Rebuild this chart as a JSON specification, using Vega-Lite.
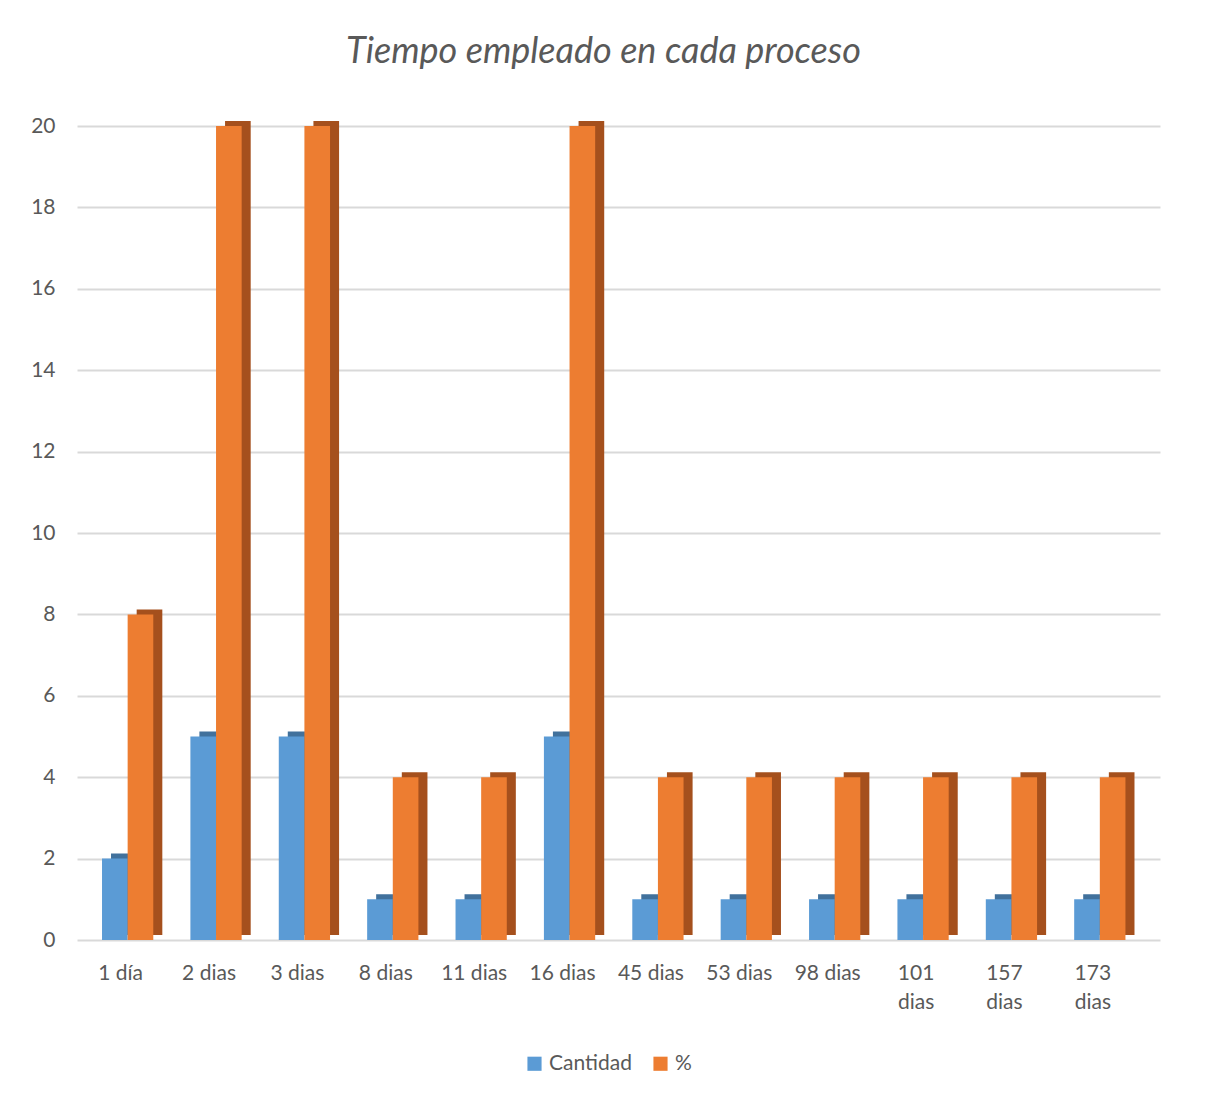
{
  "$schema": "https://vega.github.io/schema/vega-lite/v6.json",
  "autosize": {"type": "none"},
  "width": 1083,
  "height": 814,
  "padding": {"left": 77, "top": 126, "right": 45, "bottom": 158},
  "background": "white",
  "config": {
    "font": "Lato",
    "view": {"stroke": null},
    "axis": {"labelFont": "Lato", "labelColor": "#595959", "labelFontSize": 21, "titleFont": "Lato"},
    "legend": {"labelFont": "Lato", "labelColor": "#595959", "labelFontSize": 21}
  },
  "title": {
    "text": "Tiempo empleado en cada proceso",
    "font": "Lato",
    "fontSize": 36,
    "fontStyle": "italic",
    "fontWeight": "normal",
    "color": "#595959",
    "anchor": "middle",
    "dx": -15,
    "offset": 44
  },
  "data": {
    "values": [
      {"dia": "1 día", "serie": "Cantidad", "valor": 2},
      {"dia": "1 día", "serie": "%", "valor": 8},
      {"dia": "2 dias", "serie": "Cantidad", "valor": 5},
      {"dia": "2 dias", "serie": "%", "valor": 20},
      {"dia": "3 dias", "serie": "Cantidad", "valor": 5},
      {"dia": "3 dias", "serie": "%", "valor": 20},
      {"dia": "8 dias", "serie": "Cantidad", "valor": 1},
      {"dia": "8 dias", "serie": "%", "valor": 4},
      {"dia": "11 dias", "serie": "Cantidad", "valor": 1},
      {"dia": "11 dias", "serie": "%", "valor": 4},
      {"dia": "16 dias", "serie": "Cantidad", "valor": 5},
      {"dia": "16 dias", "serie": "%", "valor": 20},
      {"dia": "45 dias", "serie": "Cantidad", "valor": 1},
      {"dia": "45 dias", "serie": "%", "valor": 4},
      {"dia": "53 dias", "serie": "Cantidad", "valor": 1},
      {"dia": "53 dias", "serie": "%", "valor": 4},
      {"dia": "98 dias", "serie": "Cantidad", "valor": 1},
      {"dia": "98 dias", "serie": "%", "valor": 4},
      {"dia": "101 dias", "serie": "Cantidad", "valor": 1},
      {"dia": "101 dias", "serie": "%", "valor": 4},
      {"dia": "157 dias", "serie": "Cantidad", "valor": 1},
      {"dia": "157 dias", "serie": "%", "valor": 4},
      {"dia": "173 dias", "serie": "Cantidad", "valor": 1},
      {"dia": "173 dias", "serie": "%", "valor": 4}
    ]
  },
  "encoding": {
    "x": {
      "field": "dia",
      "type": "nominal",
      "sort": null,
      "scale": {"paddingInner": 0.42, "paddingOuter": 0.337, "align": 0.42},
      "axis": {
        "title": null,
        "labelAngle": 0,
        "domain": false,
        "ticks": false,
        "labelPadding": 22,
        "labelOffset": -7,
        "labelLineHeight": 29,
        "labelExpr": "length(datum.label) > 7 ? split(datum.label, ' ') : datum.label"
      }
    },
    "y": {
      "field": "valor",
      "type": "quantitative",
      "scale": {"domain": [0, 20], "nice": false},
      "axis": {
        "title": null,
        "values": [0, 2, 4, 6, 8, 10, 12, 14, 16, 18, 20],
        "labelOverlap": false,
        "domain": false,
        "ticks": false,
        "labelPadding": 22,
        "grid": true,
        "gridColor": "#d9d9d9",
        "gridWidth": 2
      }
    }
  },
  "layer": [
    {
      "mark": {"type": "bar", "yOffset": -5},
      "encoding": {
        "xOffset": {"field": "serie", "type": "nominal", "sort": ["Cantidad", "%"], "scale": {"range": [9, 60.3]}},
        "color": {
          "condition": {"test": "datum.serie === 'Cantidad'", "value": "#41719c"},
          "value": "#a5501d"
        }
      }
    },
    {
      "mark": {"type": "bar"},
      "encoding": {
        "xOffset": {"field": "serie", "type": "nominal", "sort": ["Cantidad", "%"]},
        "color": {
          "field": "serie",
          "type": "nominal",
          "sort": ["Cantidad", "%"],
          "scale": {"domain": ["Cantidad", "%"], "range": ["#5b9bd5", "#ed7d31"]},
          "legend": {
            "title": null,
            "orient": "none",
            "legendX": 447,
            "legendY": 927,
            "direction": "horizontal",
            "symbolType": "square",
            "symbolSize": 200,
            "symbolStrokeWidth": 0,
            "columnPadding": 18
          }
        }
      }
    }
  ],
  "resolve": {"scale": {"xOffset": "independent"}}
}
